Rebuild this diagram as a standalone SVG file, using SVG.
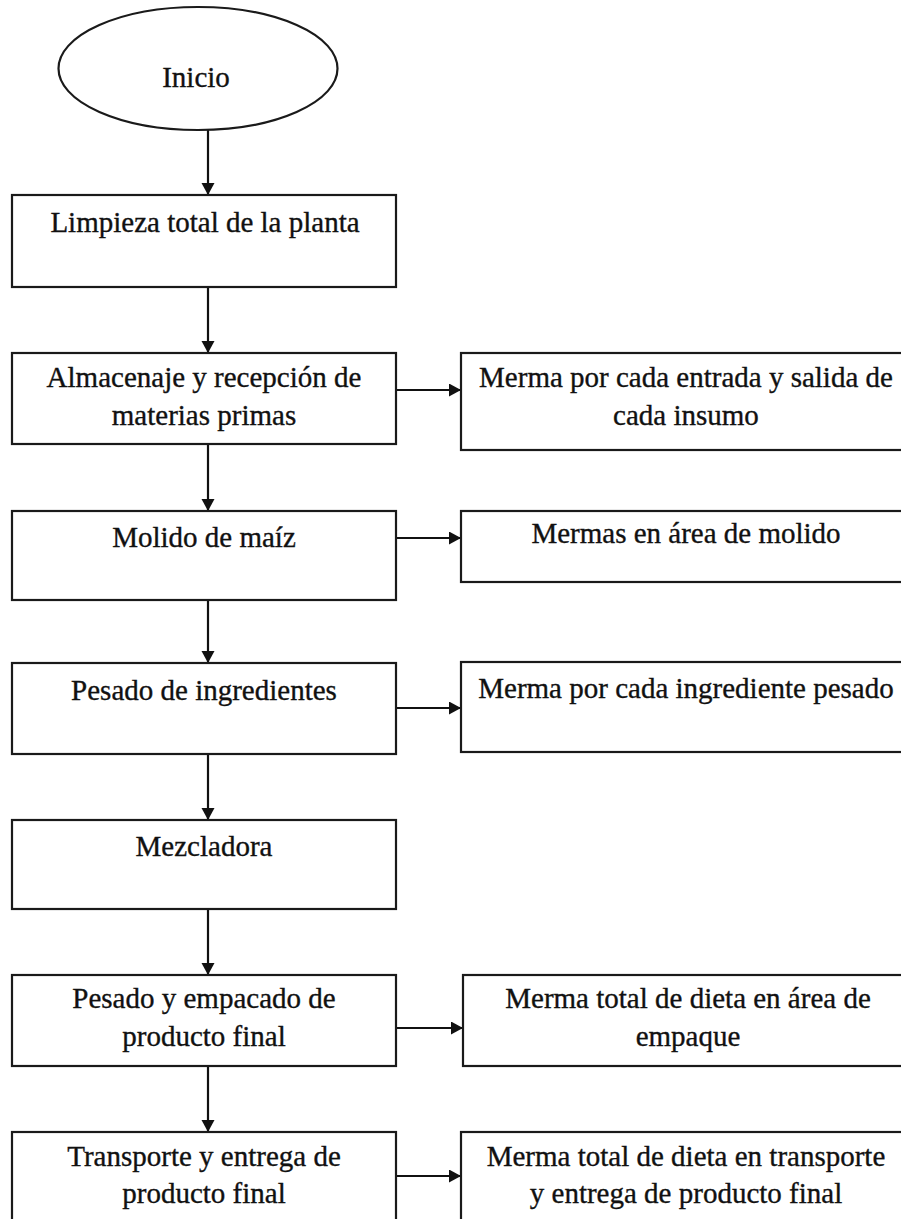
<svg xmlns="http://www.w3.org/2000/svg" width="901" height="1219" viewBox="0 0 901 1219">
<style>
.box{fill:#fff;stroke:#1a1a1a;stroke-width:2.2}
.lbl{font-family:"Liberation Serif","Times New Roman",serif;font-size:29px;fill:#111;stroke:#111;stroke-width:0.35;text-anchor:middle}
.con{stroke:#111;stroke-width:2.2;fill:none;marker-end:url(#ah)}
</style>
<defs>
<marker id="ah" markerUnits="userSpaceOnUse" markerWidth="14" markerHeight="14" refX="12" refY="6.5" orient="auto">
<path d="M0,0 L12,6.5 L0,13 Z" fill="#111"/>
</marker>
</defs>
<rect width="901" height="1219" fill="#fff"/>
<g id="connectors">
<line class="con" x1="208" y1="130" x2="208" y2="195"/>
<line class="con" x1="208" y1="287" x2="208" y2="353"/>
<line class="con" x1="208" y1="444" x2="208" y2="511"/>
<line class="con" x1="208" y1="600" x2="208" y2="663"/>
<line class="con" x1="208" y1="754" x2="208" y2="820"/>
<line class="con" x1="208" y1="909" x2="208" y2="975"/>
<line class="con" x1="208" y1="1066" x2="208" y2="1132"/>
<line class="con" x1="396" y1="390" x2="461" y2="390"/>
<line class="con" x1="396" y1="538" x2="461" y2="538"/>
<line class="con" x1="396" y1="708" x2="461" y2="708"/>
<line class="con" x1="396" y1="1028" x2="463" y2="1028"/>
<line class="con" x1="396" y1="1176" x2="461" y2="1176"/>
</g>
<g id="inicio">
<ellipse class="box" cx="198" cy="68.5" rx="139.5" ry="61.5"/>
<text class="lbl" x="196" y="87">Inicio</text>
</g>
<g id="limpieza">
<rect class="box" x="12" y="195" width="384" height="92"/>
<text class="lbl" x="205" y="232">Limpieza total de la planta</text>
</g>
<g id="almacenaje">
<rect class="box" x="12" y="353" width="384" height="91"/>
<text class="lbl" x="204" y="387">Almacenaje y recepción de</text>
<text class="lbl" x="204" y="425">materias primas</text>
</g>
<g id="molido">
<rect class="box" x="12" y="511" width="384" height="89"/>
<text class="lbl" x="204" y="547">Molido de maíz</text>
</g>
<g id="pesado">
<rect class="box" x="12" y="663" width="384" height="91"/>
<text class="lbl" x="204" y="700">Pesado de ingredientes</text>
</g>
<g id="mezcladora">
<rect class="box" x="12" y="820" width="384" height="89"/>
<text class="lbl" x="204" y="856">Mezcladora</text>
</g>
<g id="empacado">
<rect class="box" x="12" y="975" width="384" height="91"/>
<text class="lbl" x="204" y="1008">Pesado y empacado de</text>
<text class="lbl" x="204" y="1046">producto final</text>
</g>
<g id="transporte">
<rect class="box" x="12" y="1132" width="384" height="120"/>
<text class="lbl" x="204" y="1166">Transporte y entrega de</text>
<text class="lbl" x="204" y="1203">producto final</text>
</g>
<g id="merma1">
<rect class="box" x="461" y="353" width="460" height="97"/>
<text class="lbl" x="686" y="387">Merma por cada entrada y salida de</text>
<text class="lbl" x="686" y="425">cada insumo</text>
</g>
<g id="merma2">
<rect class="box" x="461" y="511" width="460" height="71"/>
<text class="lbl" x="686" y="543">Mermas en área de molido</text>
</g>
<g id="merma3">
<rect class="box" x="461" y="662" width="460" height="90"/>
<text class="lbl" x="686" y="698">Merma por cada ingrediente pesado</text>
</g>
<g id="merma4">
<rect class="box" x="463" y="975" width="460" height="91"/>
<text class="lbl" x="688" y="1008">Merma total de dieta en área de</text>
<text class="lbl" x="688" y="1046">empaque</text>
</g>
<g id="merma5">
<rect class="box" x="461" y="1132" width="460" height="120"/>
<text class="lbl" x="686" y="1166">Merma total de dieta en transporte</text>
<text class="lbl" x="686" y="1203">y entrega de producto final</text>
</g>
</svg>
